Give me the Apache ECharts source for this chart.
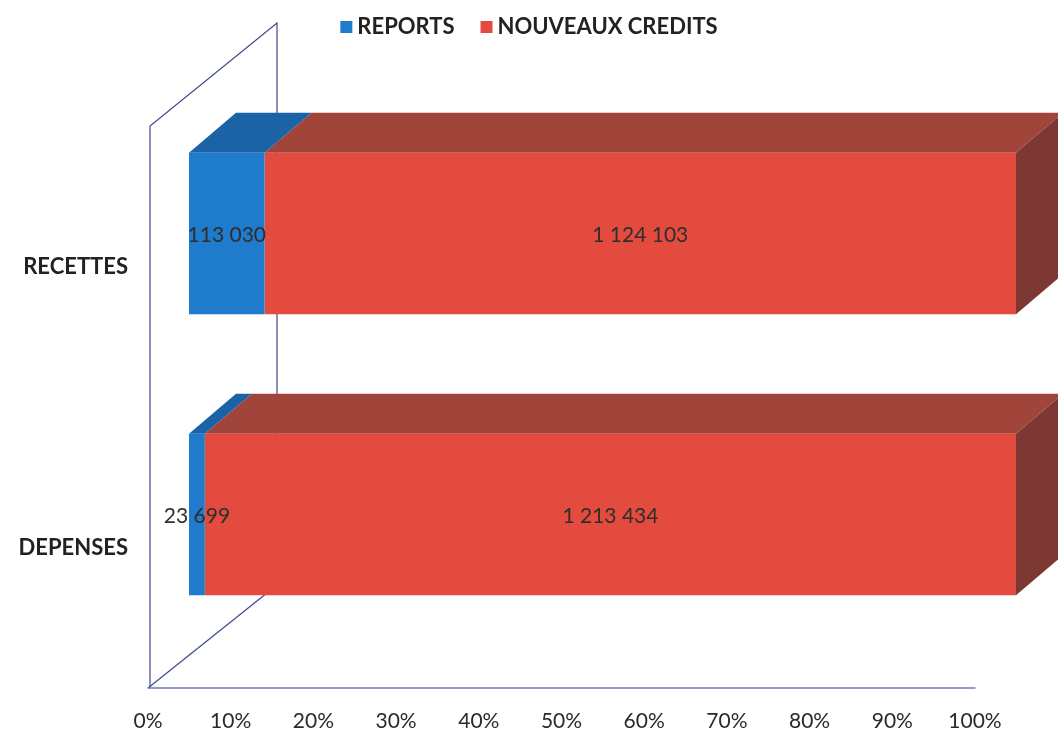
<!DOCTYPE html>
<html><head><meta charset="utf-8">
<script src="https://cdn.jsdelivr.net/npm/echarts@6/dist/echarts.min.js"></script>
<style>html,body{margin:0;padding:0;background:#fff}#c{width:1058px;height:734px}</style>
</head><body><div id="c"></div>
<script>
const categories = ['RECETTES', 'DEPENSES'];
const seriesNames = ['REPORTS', 'NOUVEAUX CREDITS'];
const reports = [113030, 23699];
const nouveauxCredits = [1124103, 1213434];
const tickLabels = ['0%','10%','20%','30%','40%','50%','60%','70%','80%','90%','100%'];

const GRID = {left: 148, right: 83, top: 126, bottom: 46};
const W = 1058, H = 734;
// 3D look
const OFF = [41, -33];     // bar front plane offset from floor front
const DEPTH = [47, -40];   // bar depth
const WALL = [127, -103];  // wall/floor depth
const BAR_RATIO = 0.575;

const colors = {
  blue: {front: '#1f7bcb', top: '#1b62a6', side: '#174f86'},
  red: {front: '#e24b3d', top: '#a1443a', side: '#7e3833'}
};

const totals = categories.map((c, i) => reports[i] + nouveauxCredits[i]);
const fmt = v => String(v).replace(/\B(?=(\d{3})+(?!\d))/g, ' ');

function buildData(vals, startVals) {
  return categories.map((c, i) => {
    const s = startVals ? startVals[i] / totals[i] * 100 : 0;
    const e = s + vals[i] / totals[i] * 100;
    return [s, e, i, vals[i]];
  });
}

function makeRender(col, isLast) {
  return function (params, api) {
    const ci = api.value(2);
    const p0 = api.coord([api.value(0), ci]);
    const p1 = api.coord([api.value(1), ci]);
    const band = api.size([0, 1])[1];
    const h = band * BAR_RATIO;
    const fx0 = p0[0] + OFF[0], fx1 = p1[0] + OFF[0];
    const fy = p0[1] + OFF[1] - h / 2;
    const children = [
      {type: 'polygon', shape: {points: [[fx0, fy], [fx1, fy], [fx1 + DEPTH[0], fy + DEPTH[1]], [fx0 + DEPTH[0], fy + DEPTH[1]]]},
       style: {fill: col.top}},
      {type: 'rect', shape: {x: fx0, y: fy, width: fx1 - fx0, height: h}, style: {fill: col.front}}
    ];
    if (isLast) {
      children.push({type: 'polygon', shape: {points: [[fx1, fy], [fx1 + DEPTH[0], fy + DEPTH[1]], [fx1 + DEPTH[0], fy + h + DEPTH[1]], [fx1, fy + h]]},
        style: {fill: col.side}});
    }
    children.push({type: 'text', z2: 10, style: {text: fmt(api.value(3)), x: (fx0 + fx1) / 2, y: fy + h / 2 + 2,
      align: 'center', verticalAlign: 'middle', font: '21px Lato', fill: '#2e2e2e'}});
    return {type: 'group', children: children};
  };
}

const chart = echarts.init(document.getElementById('c'), null, {renderer: 'canvas'});
const gx0 = GRID.left, gy1 = H - GRID.bottom, gx1 = W - GRID.right, gy0 = GRID.top;
const wallColor = '#3e4a86';
chart.setOption({
  backgroundColor: '#ffffff',
  animation: false,
  legend: {
    top: 11, left: 'center', itemWidth: 12, itemHeight: 12, itemGap: 26,
    icon: 'rect',
    textStyle: {fontFamily: 'Lato', fontWeight: 'bold', fontSize: 22, color: '#222'},
    data: seriesNames
  },
  grid: {left: GRID.left, right: GRID.right, top: GRID.top, bottom: GRID.bottom},
  xAxis: {
    type: 'value', min: 0, max: 100, interval: 10,
    axisLine: {show: true, lineStyle: {color: '#6a7cbc', width: 1.5}},
    axisTick: {show: false}, splitLine: {show: false},
    axisLabel: {formatter: v => tickLabels[Math.round(v / 10)], margin: 23, fontFamily: 'Lato', fontSize: 21, color: '#2a2a2a'}
  },
  yAxis: {
    type: 'category', data: categories, inverse: true,
    axisLine: {show: false}, axisTick: {show: false},
    axisLabel: {margin: 20, fontFamily: 'Lato', fontWeight: 'bold', fontSize: 22, color: '#222'}
  },
  graphic: [
    {type: 'polyline', z: 0, shape: {points: [[gx0 + 2, gy1], [gx0 + 2, gy0], [gx0 + 2 + WALL[0], gy0 + WALL[1]], [gx0 + 2 + WALL[0], gy1 + WALL[1]]]},
     style: {stroke: wallColor, lineWidth: 1.2, fill: null}},
    {type: 'line', z: 0, shape: {x1: gx0, y1: gy1, x2: gx0 + 2 + WALL[0], y2: gy1 + WALL[1]}, style: {stroke: wallColor, lineWidth: 1.2}}
  ],
  series: [
    {name: seriesNames[0], type: 'custom', z: 4, itemStyle: {color: colors.blue.front},
     encode: {x: [0, 1], y: 2}, data: buildData(reports), renderItem: makeRender(colors.blue, false)},
    {name: seriesNames[1], type: 'custom', z: 3, itemStyle: {color: colors.red.front},
     encode: {x: [0, 1], y: 2}, data: buildData(nouveauxCredits, reports), renderItem: makeRender(colors.red, true)}
  ]
});
</script></body></html>
